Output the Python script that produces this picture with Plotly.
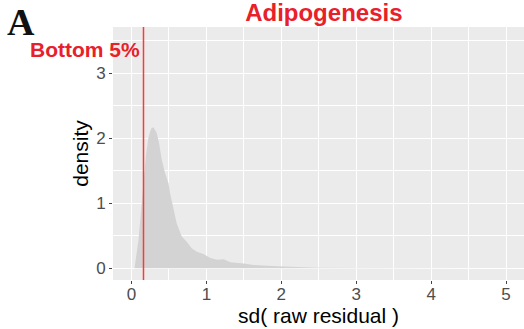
import plotly.graph_objects as go

# density curve of sd(raw residual)
sd_x = [0.04, 0.093, 0.129, 0.16, 0.191, 0.227, 0.263, 0.293, 0.337, 0.369, 0.404,
        0.449, 0.493, 0.516, 0.56, 0.604, 0.671, 0.737, 0.804, 0.871, 0.96, 1.027,
        1.053, 1.143, 1.231, 1.32, 1.409, 1.497, 1.631, 1.764, 1.943, 2.209, 2.476,
        3.0, 3.5, 4.0, 4.5, 4.95]
density = [0.0, 0.435, 0.9, 1.36, 1.72, 2.02, 2.15, 2.17, 2.08, 1.92, 1.67,
           1.46, 1.31, 1.15, 0.9, 0.69, 0.49, 0.41, 0.31, 0.255, 0.22, 0.18,
           0.16, 0.13, 0.14, 0.092, 0.087, 0.072, 0.05, 0.04, 0.03, 0.02, 0.01,
           0.006, 0.004, 0.003, 0.002, 0.0]
cutoff = 0.16
x_ticks = [0, 1, 2, 3, 4, 5]
y_ticks = [0, 1, 2, 3]

RED = "#E8202A"
SANS = "Liberation Sans, Arial"
fig = go.Figure()
fig.add_trace(go.Scatter(x=sd_x, y=density, mode="lines", fill="tozeroy",
                         line=dict(color="rgba(0,0,0,0)", width=0),
                         fillcolor="#D3D3D3", hoverinfo="skip", showlegend=False))
fig.add_shape(type="line", x0=cutoff, x1=cutoff, y0=0, y1=1, xref="x", yref="paper",
              line=dict(color="#FF3838", width=1.5))

fig.add_annotation(x=cutoff - 0.025, y=3.37, xref="x", yref="y", text="<b>Bottom 5%</b>",
                   showarrow=False, xanchor="right", yanchor="middle",
                   font=dict(family=SANS, size=21, color=RED))
fig.add_annotation(x=-0.262, y=1.11, xref="paper", yref="paper", text="<b>A</b>",
                   showarrow=False, xanchor="left", yanchor="top",
                   font=dict(family="Liberation Serif, Times New Roman", size=38, color="#111"))

grid = "white"
fig.update_layout(
    width=524, height=329,
    margin=dict(l=113, r=0, t=27, b=49),
    paper_bgcolor="white", plot_bgcolor="#EBEBEB",
    title=dict(text="<b>Adipogenesis</b>", x=0.618, xanchor="center", y=0.962, yanchor="middle",
               font=dict(family=SANS, size=24, color=RED)),
    xaxis=dict(range=[-0.247, 5.24], tickvals=x_ticks, ticktext=[str(v) for v in x_ticks],
               showgrid=True, gridcolor=grid, gridwidth=1.2, zeroline=False,
               minor=dict(tickvals=[0.5, 1.5, 2.5, 3.5, 4.5], showgrid=True, gridcolor=grid, gridwidth=0.6),
               ticks="outside", ticklen=3, tickcolor="#444", tickwidth=1,
               ticklabelstandoff=-4,
               tickfont=dict(family=SANS, size=17, color="#4D4D4D"),
               title=dict(text="sd( raw residual )", standoff=0,
                          font=dict(family=SANS, size=21, color="black"))),
    yaxis=dict(range=[-0.18, 3.71], tickvals=y_ticks, ticktext=[str(v) for v in y_ticks],
               showgrid=True, gridcolor=grid, gridwidth=1.2, zeroline=False,
               minor=dict(tickvals=[0.5, 1.5, 2.5, 3.5], showgrid=True, gridcolor=grid, gridwidth=0.6),
               ticks="outside", ticklen=3, tickcolor="#444", tickwidth=1,
               tickfont=dict(family=SANS, size=17, color="#4D4D4D"),
               title=dict(text="density", standoff=1,
                          font=dict(family=SANS, size=21, color="black"))),
)
fig.write_html("out.html")
